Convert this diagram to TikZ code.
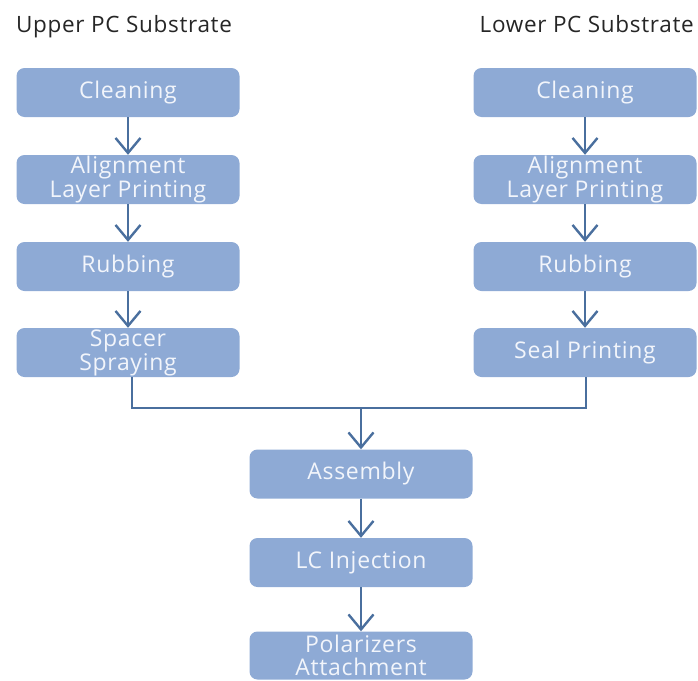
\documentclass[tikz,border=0pt]{standalone}
\usepackage{fontspec}
\setmainfont{Open Sans}
\newfontfamily\stagefont[LetterSpace=3]{Open Sans}
\usepackage{tikz}
\usetikzlibrary{arrows.meta}
\definecolor{boxfill}{HTML}{8EAAD5}
\definecolor{flowline}{HTML}{4A6F9E}
\definecolor{boxtext}{HTML}{F2F5FB}
\tikzset{stage/.style = {shape = rectangle, rounded corners = 8pt, fill = boxfill, text = boxtext,
    minimum width = 223pt, minimum height = 49pt, inner sep = 0pt, align = center,
    font = \stagefont\fontsize{23}{24}\selectfont}}
\tikzset{title/.style = {text = black!85, inner sep = 0pt, font = \stagefont\fontsize{22.5}{24}\selectfont}}
\tikzset{flow/.style = {draw = flowline, line width = 2.4pt, -{Straight Barb[length = 15pt, width = 25pt, line width = 2.4pt]}}}
\tikzset{joinline/.style = {draw = flowline, line width = 2.2pt}}

\begin{document}
\begin{tikzpicture}[x = 1pt, y = -1pt]
				\useasboundingbox (0, 0) rectangle (698, 680);

				\node[title, anchor = base west] (upper) at (16, 32) {Upper PC Substrate};
				\node[title, anchor = base east] (lower) at (694, 32) {Lower PC Substrate};

				% upper substrate
				\node[stage] (uclean) at (128, 92.5) {Cleaning};
				\node[stage] (ualign) at (128, 179.5) {Alignment\\Layer Printing};
				\node[stage] (urub) at (128, 266.5) {Rubbing};
				\node[stage] (uspacer) at (128, 352.5) {Spacer\\Spraying};

				% lower substrate
				\node[stage] (lclean) at (585, 92.5) {Cleaning};
				\node[stage] (lalign) at (585, 179.5) {Alignment\\Layer Printing};
				\node[stage] (lrub) at (585, 266.5) {Rubbing};
				\node[stage] (lseal) at (585, 352.5) {Seal Printing};

				% cell process
				\node[stage] (assembly) at (361, 474) {Assembly};
				\node[stage] (inject) at (361, 562.5) {LC Injection};
				\node[stage, minimum height = 48pt, font = \stagefont\fontsize{23}{22.5}\selectfont] (polar) at (361, 655.5) {Polarizers\\Attachment};

				\coordinate (join) at (361, 408);

				\draw[flow] (uclean) -- (ualign);
				\draw[flow] (ualign) -- (urub);
				\draw[flow] (urub) -- (uspacer);
				\draw[flow] (lclean) -- (lalign);
				\draw[flow] (lalign) -- (lrub);
				\draw[flow] (lrub) -- (lseal);
				\draw[joinline] ([xshift = 4pt]uspacer.south) |- (join) -| ([xshift = 1pt]lseal.south);
				\draw[flow] (join) -- (assembly);
				\draw[flow] (assembly) -- (inject);
				\draw[flow] (inject) -- (polar);
			\end{tikzpicture}
\end{document}
